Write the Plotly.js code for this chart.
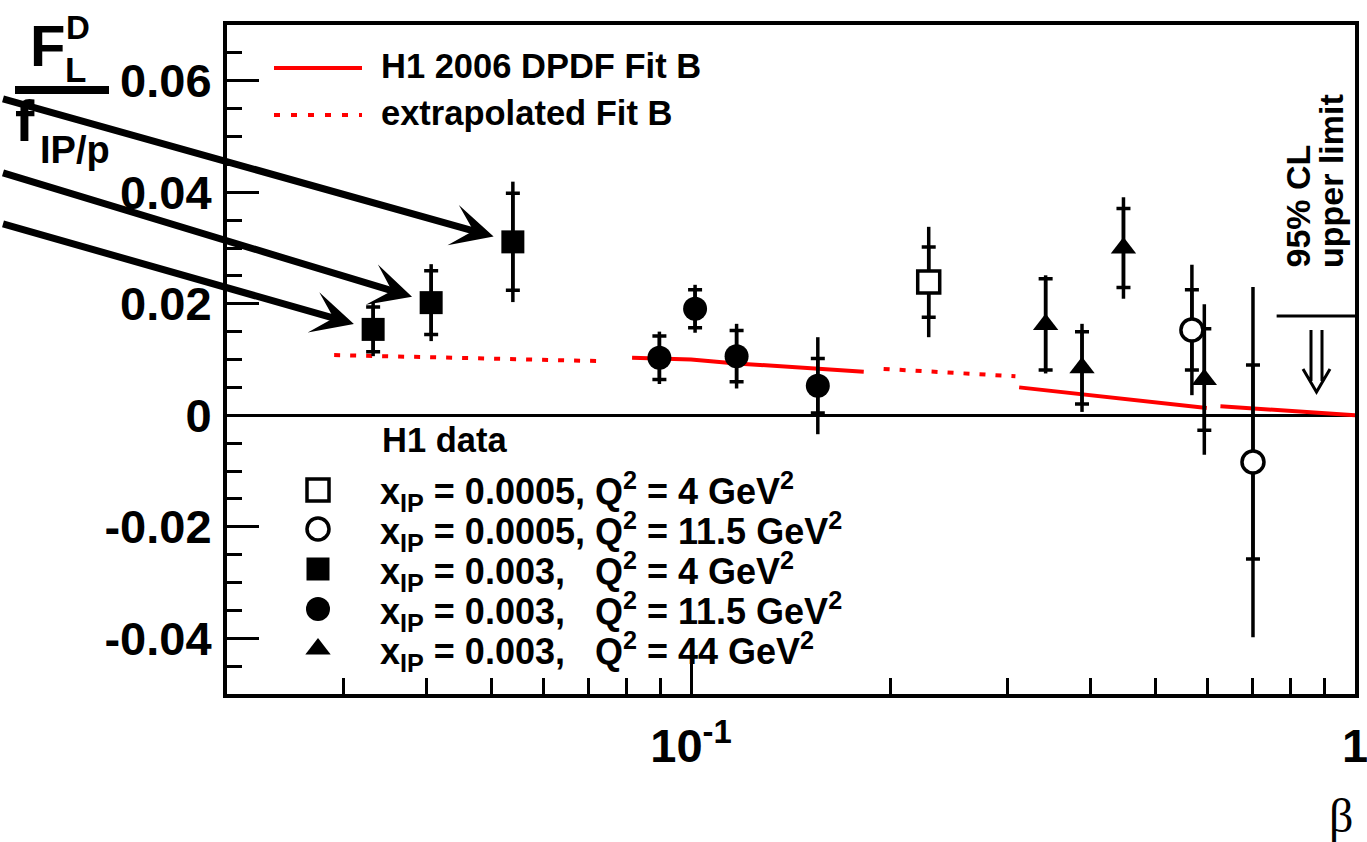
<!DOCTYPE html>
<html>
<head>
<meta charset="utf-8">
<script src="https://cdn.plot.ly/plotly-3.0.1.min.js"></script>
<style>html,body{margin:0;padding:0;background:#fff}</style>
</head>
<body>
<div id="chart" style="width:1367px;height:842px"></div>
<script>
// ---------------- data ----------------
// x_IP = 0.0005, Q2 = 4 GeV2 (open square)
const betaA = [0.228];
const fA    = [0.0239];
const statA = [0.0063];
const totA  = [0.0099];
// x_IP = 0.0005, Q2 = 11.5 GeV2 (open circle)
const betaB = [0.568, 0.702];
const fB    = [0.0153, -0.0084];
const statB = [0.0072, 0.0174];
const totB  = [0.0117, 0.0314];
// x_IP = 0.003, Q2 = 4 GeV2 (filled square)
const betaC = [0.0332, 0.0406, 0.0539];
const fC    = [0.0154, 0.0202, 0.0311];
const statC = [0.0040, 0.0057, 0.0087];
const totC  = [0.0048, 0.0069, 0.0108];
// x_IP = 0.003, Q2 = 11.5 GeV2 (filled circle)
const betaD = [0.0896, 0.1014, 0.1171, 0.1552];
const fD    = [0.0103, 0.0191, 0.0106, 0.0053];
const statD = [0.0039, 0.0034, 0.0046, 0.0049];
const totD  = [0.0047, 0.0043, 0.0058, 0.0087];
// x_IP = 0.003, Q2 = 44 GeV2 (filled triangle)
const betaE = [0.342, 0.388, 0.448, 0.593];
const fE    = [0.0163, 0.0085, 0.0300, 0.0064];
const statE = [0.0082, 0.0065, 0.0071, 0.0091];
const totE  = [0.0088, 0.0079, 0.0091, 0.0135];

// H1 2006 DPDF Fit B (solid) and its extrapolation (dotted)
const fitBetaA = [0.0815, 0.1, 0.117, 0.155, 0.182];
const fitFA    = [0.0103, 0.0100, 0.0093, 0.0083, 0.0078];
const fitBetaB = [0.312, 0.388, 0.598];
const fitFB    = [0.0050, 0.0038, 0.0013];
const fitBetaC = [0.627, 1.0];
const fitFC    = [0.0016, 0.0];
const extBetaA = [0.029, 0.0737];
const extFA    = [0.0108, 0.0097];
const extBetaB = [0.195, 0.308];
const extFB    = [0.0083, 0.0070];

// 95% CL upper limit
const limitBeta = [0.762, 1.0];
const limitF    = [0.0178, 0.0178];

const seriesLabels = [
  'x<sub>IP</sub> = 0.0005, Q<sup>2</sup> = 4 GeV<sup>2</sup>',
  'x<sub>IP</sub> = 0.0005, Q<sup>2</sup> = 11.5 GeV<sup>2</sup>',
  'x<sub>IP</sub> = 0.003,\u00a0\u00a0\u00a0Q<sup>2</sup> = 4 GeV<sup>2</sup>',
  'x<sub>IP</sub> = 0.003,\u00a0\u00a0\u00a0Q<sup>2</sup> = 11.5 GeV<sup>2</sup>',
  'x<sub>IP</sub> = 0.003,\u00a0\u00a0\u00a0Q<sup>2</sup> = 44 GeV<sup>2</sup>'
];
const fitLabels = ['H1 2006 DPDF Fit B', 'extrapolated Fit B'];
const yTickVals = [-0.04, -0.02, 0, 0.02, 0.04, 0.06];
const yTickText = ['-0.04', '-0.02', '0', '0.02', '0.04', '0.06'];
const xTickVals = [0.1, 1];
const xTickText = ['10<sup>-1</sup>', '1'];

// ---------------- geometry / style ----------------
const W = 1367, H = 842;
const L = 227, R = 1355, T = 25, B = 694;
const XMIN = 0.02, XMAX = 1, YMIN = -0.05, YMAX = 0.07;
const fx = p => (p - L) / (R - L);
const fy = p => (B - p) / (B - T);
const toPxX = v => L + (Math.log10(v) - Math.log10(XMIN)) / (Math.log10(XMAX) - Math.log10(XMIN)) * (R - L);
const toPxY = v => B - (v - YMIN) / (YMAX - YMIN) * (B - T);

const FONT = 'Liberation Sans, Arial, Helvetica, sans-serif';
const RED = '#ff0000';
const EB = 3.5;

const styles = [
  {symbol: 'square', size: 22, color: '#ffffff', line: {color: '#000', width: 3.5}},
  {symbol: 'circle', size: 22, color: '#ffffff', line: {color: '#000', width: 3.5}},
  {symbol: 'square', size: 23, color: '#000', line: {color: '#000', width: 0}},
  {symbol: 'circle', size: 24, color: '#000', line: {color: '#000', width: 0}},
  {symbol: 'triangle-up', size: 22, color: '#000', line: {color: '#000', width: 0}}
];
const sets = [
  [betaA, fA, statA, totA],
  [betaB, fB, statB, totB],
  [betaC, fC, statC, totC],
  [betaD, fD, statD, totD],
  [betaE, fE, statE, totE]
];

const traces = [];
// fit curves
[[fitBetaA, fitFA], [fitBetaB, fitFB], [fitBetaC, fitFC]].forEach((s) => {
  traces.push({x: s[0], y: s[1], type: 'scatter', mode: 'lines', name: fitLabels[0],
    line: {color: RED, width: 4}, showlegend: false, hoverinfo: 'skip'});
});
[[extBetaA, extFA], [extBetaB, extFB]].forEach((s) => {
  traces.push({x: s[0], y: s[1], type: 'scatter', mode: 'lines', name: fitLabels[1],
    line: {color: RED, width: 4, dash: '6px,10px'}, showlegend: false, hoverinfo: 'skip'});
});
// upper limit
traces.push({x: limitBeta, y: limitF, type: 'scatter', mode: 'lines', name: '95% CL upper limit',
  line: {color: '#000', width: 3}, showlegend: false, hoverinfo: 'skip'});
// statistical error bars (with cross bars)
sets.forEach((s) => {
  traces.push({x: s[0], y: s[1], type: 'scatter', mode: 'markers', showlegend: false, hoverinfo: 'skip',
    marker: {size: 2, opacity: 0},
    error_y: {type: 'data', array: s[2], visible: true, color: '#000', thickness: EB, width: 7}});
});
// total error bars + markers
sets.forEach((s, i) => {
  traces.push({x: s[0], y: s[1], type: 'scatter', mode: 'markers', name: seriesLabels[i], showlegend: false,
    marker: styles[i],
    error_y: {type: 'data', array: s[3], visible: true, color: '#000', thickness: EB, width: 0}});
});

// legend symbols (drawn on an overlay axis spanning the plot area in paper fractions)
const legRowY = [490, 529, 569, 609, 649];
styles.forEach((st, i) => {
  traces.push({x: [fx(318)], y: [fy(legRowY[i])], xaxis: 'x2', yaxis: 'y2', type: 'scatter', mode: 'markers',
    marker: st, showlegend: false, hoverinfo: 'skip', cliponaxis: false});
});

// ---------------- annotations ----------------
const ann = [];
function txt(text, x, y, size, opts) {
  ann.push(Object.assign({text: text, x: fx(x), y: fy(y), xref: 'paper', yref: 'paper', showarrow: false,
    xanchor: 'center', yanchor: 'middle', font: {family: FONT, size: size, color: '#000', weight: 'bold'}}, opts || {}));
}
// y-axis title: F_L^D / f_IP/p
txt('F', 47, 45, 58);
txt('D', 78, 27, 33);
txt('L', 76, 70, 35);
txt('f', 25, 121, 58);
txt('IP/p', 75, 150, 38);
// legend 1
txt(fitLabels[0], 379, 66, 34.5, {xanchor: 'left'});
txt(fitLabels[1], 379, 113, 34.5, {xanchor: 'left'});
// legend 2
txt('H1 data', 380, 440, 34.5, {xanchor: 'left'});
seriesLabels.forEach((s, i) => txt(s, 378, legRowY[i] + 2, 36, {xanchor: 'left'}));
// upper-limit label
txt('95% CL', 1297, 270, 34, {textangle: -90, yanchor: 'bottom'});
txt('upper limit', 1331, 270, 34, {textangle: -90, yanchor: 'bottom'});
// beta axis title
ann.push({text: '\u03b2', x: fx(1341), y: fy(815), xref: 'paper', yref: 'paper', showarrow: false,
  xanchor: 'center', yanchor: 'middle', font: {family: 'Liberation Serif, Times New Roman, serif', size: 48, color: '#000'}});
// arrows pointing to the three x_IP = 0.003, Q2 = 4 points
const arrowTailY = [223, 172, 98];
betaC.forEach((b, i) => {
  const px = toPxX(b), py = toPxY(fC[i]);
  ann.push({text: ' ', x: Math.log10(b), y: fC[i], xref: 'x', yref: 'y', showarrow: true,
    ax: 0 - px, ay: arrowTailY[i] - py, axref: 'pixel', ayref: 'pixel',
    arrowhead: 3, arrowsize: 1.0, arrowwidth: 7, arrowcolor: '#000', standoff: 20});
});

// ---------------- shapes ----------------
const shapes = [
  // fraction bar of y title
  {type: 'line', xref: 'paper', yref: 'paper', x0: fx(15), x1: fx(109), y0: fy(90), y1: fy(90), line: {color: '#000', width: 8}},
  // legend line samples
  {type: 'line', xref: 'paper', yref: 'paper', x0: fx(274), x1: fx(362), y0: fy(68), y1: fy(68), line: {color: RED, width: 4}},
  {type: 'line', xref: 'paper', yref: 'paper', x0: fx(274), x1: fx(362), y0: fy(115), y1: fy(115), line: {color: RED, width: 4, dash: '6px,11px'}},
  // double arrow of the upper limit
  {type: 'path', xref: 'paper', yref: 'paper', line: {color: '#000', width: 3},
    path: 'M' + fx(1311) + ',' + fy(330) + 'L' + fx(1311) + ',' + fy(381) +
          'M' + fx(1322) + ',' + fy(330) + 'L' + fx(1322) + ',' + fy(381) +
          'M' + fx(1303) + ',' + fy(369) + 'L' + fx(1316.5) + ',' + fy(392) + 'L' + fx(1330) + ',' + fy(369)}
];

const layout = {
  width: W, height: H,
  margin: {l: L, r: W - R, t: T, b: H - B, pad: 0},
  paper_bgcolor: '#fff', plot_bgcolor: '#fff',
  showlegend: false,
  font: {family: FONT, color: '#000'},
  xaxis: {
    type: 'log', range: [Math.log10(XMIN), Math.log10(XMAX)],
    tickmode: 'array', tickvals: xTickVals, ticktext: xTickText,
    ticks: 'inside', ticklen: 30, tickwidth: 3, tickcolor: '#000',
    minor: {tickmode: 'array', tickvals: [0.03, 0.04, 0.05, 0.06, 0.07, 0.08, 0.09, 0.2, 0.3, 0.4, 0.5, 0.6, 0.7, 0.8, 0.9],
            ticks: 'inside', ticklen: 16, tickwidth: 3, tickcolor: '#000', showgrid: false},
    showline: true, linewidth: 4, linecolor: '#000', mirror: true,
    showgrid: false, zeroline: false,
    tickfont: {family: FONT, size: 47, color: '#000', weight: 'bold'},
    ticklabelstandoff: 8,
    ticklabeloverflow: 'allow'
  },
  yaxis: {
    range: [YMIN, YMAX],
    tickmode: 'array', tickvals: yTickVals, ticktext: yTickText,
    ticks: 'inside', ticklen: 32, tickwidth: 3, tickcolor: '#000',
    minor: {dtick: 0.005, tick0: 0, ticks: 'inside', ticklen: 15, tickwidth: 3, tickcolor: '#000', showgrid: false},
    showline: true, linewidth: 4, linecolor: '#000', mirror: true,
    showgrid: false, zeroline: true, zerolinecolor: '#000', zerolinewidth: 3,
    tickfont: {family: FONT, size: 47, color: '#000', weight: 'bold'},
    ticklabelstandoff: 2,
    ticklabeloverflow: 'allow'
  },
  xaxis2: {overlaying: 'x', range: [0, 1], visible: false, fixedrange: true},
  yaxis2: {overlaying: 'y', range: [0, 1], visible: false, fixedrange: true},
  annotations: ann,
  shapes: shapes
};

Plotly.newPlot('chart', traces, layout, {displayModeBar: false, staticPlot: true});
</script>
</body>
</html>
